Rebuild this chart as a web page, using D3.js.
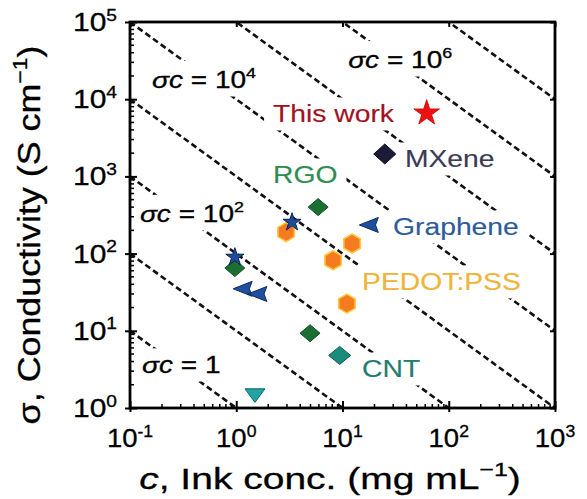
<!DOCTYPE html>
<html><head><meta charset="utf-8">
<script src="https://cdn.jsdelivr.net/npm/d3@7"></script>
<style>body{margin:0;background:#fff} svg{display:block}</style>
</head><body>
<svg id="chart" width="587" height="499"></svg>
<script>
// ---------------- data ----------------
const xTicks = [0.1, 1, 10, 100, 1000];
const xTickExps = ["-1", "0", "1", "2", "3"];
const yTicks = [1, 10, 100, 1000, 10000, 100000];
const yTickExps = ["0", "1", "2", "3", "4", "5"];
const isoExponents = [0, 1, 2, 3, 4, 5, 6, 7]; // sigma*c = 10^k

const thisWork = [{c: 62, s: 6600}];
const mxene = [{c: 25, s: 1950}];
const grapheneTriangles = [{c: 17.7, s: 235}, {c: 1.15, s: 35}, {c: 1.58, s: 30}];
const grapheneStars = [{c: 3.35, s: 255}, {c: 0.97, s: 90}];
const rgo = [{c: 5.9, s: 400}, {c: 0.97, s: 65}, {c: 4.95, s: 9.3}];
const pedot = [{c: 2.95, s: 190}, {c: 12.3, s: 135}, {c: 8.15, s: 82}, {c: 11, s: 22.5}];
const cntDiamond = [{c: 9.4, s: 4.8}];
const cntTriangle = [{c: 1.5, s: 1.5}];

// annotation text anchors (data units: left edge / baseline)
const isoLabels = [
  {exp: "4", c: 0.161, s: 13960},
  {exp: "2", c: 0.124, s: 257},
  {exp: null, c: 0.130, s: 2.84},
  {exp: "6", c: 11.3, s: 25350}
];
const seriesLabels = [
  {key: "thiswork", text: "This work", c: 2.22, s: 5070},
  {key: "mxene", text: "MXene", c: 38.7, s: 1324},
  {key: "graphene", text: "Graphene", c: 29.9, s: 174},
  {key: "rgo", text: "RGO", c: 2.22, s: 822},
  {key: "pedot", text: "PEDOT:PSS", c: 15.3, s: 33.8},
  {key: "cnt", text: "CNT", c: 15.3, s: 2.52}
];

// ---------------- styles ----------------
const labelColor = {
  thiswork: "#a3121f", mxene: "#3b3b55", graphene: "#2d5b9b",
  rgo: "#2f8c4f", pedot: "#efb43a", cnt: "#1f7d72"
};
const FONT = "'Liberation Sans', Arial, Helvetica, sans-serif";

// ---------------- setup ----------------
const svg = d3.select("#chart");
const M = {left: 130, top: 22, right: 555, bottom: 408};
const x = d3.scaleLog().domain([0.1, 1000]).range([M.left, M.right]);
const y = d3.scaleLog().domain([1, 1e5]).range([M.bottom, M.top]);

svg.append("rect").attr("width", 587).attr("height", 499).attr("fill", "#fff");
svg.append("defs").append("clipPath").attr("id", "plotclip").append("rect")
  .attr("x", M.left).attr("y", M.top)
  .attr("width", M.right - M.left).attr("height", M.bottom - M.top);

// iso-lines
const lineGen = d3.line().x(d => x(d[0])).y(d => y(d[1]));
const isoG = svg.append("g").attr("clip-path", "url(#plotclip)");
isoExponents.forEach(k => {
  const v = Math.pow(10, k);
  const pts = [[0.1, v / 0.1], [1000, v / 1000]];
  isoG.append("path").attr("d", lineGen(pts))
    .attr("fill", "none").attr("stroke", "#111")
    .attr("stroke-width", 2.6).attr("stroke-dasharray", "6,3.5");
});

// text helper
function addText(parent, x0, y0, parts, o) {
  const size = o.size, sx = o.sx || 1;
  const g = parent.append("g")
    .attr("transform", `translate(${x0},${y0}) rotate(${o.rotate || 0}) scale(${sx},1)`);
  const rect = o.bg ? g.append("rect").attr("fill", "#fff") : null;
  const t = g.append("text").attr("font-family", FONT).attr("font-size", size)
    .attr("fill", o.color || "#000").attr("text-anchor", o.anchor || "start")
    .attr("stroke", o.color || "#000").attr("stroke-width", o.sw || 0.3);
  let shift = 0;
  parts.forEach(p => {
    const ts = t.append("tspan").text(p.t);
    const target = p.sup ? -size * 0.42 : 0;
    if (target !== shift) { ts.attr("dy", target - shift); shift = target; }
    if (p.sup) ts.attr("font-size", size * 0.64);
    if (p.i) ts.attr("font-style", "italic");
  });
  if (rect) {
    const b = t.node().getBBox();
    const ph = (o.padX || 9) / sx, pv = o.padY || 4;
    rect.attr("x", b.x - ph).attr("y", b.y - pv)
      .attr("width", b.width + 2 * ph).attr("height", b.height + 2 * pv)
      .attr("stroke", "none");
  }
  return g;
}

// annotation labels
const annG = svg.append("g");
isoLabels.forEach(d => {
  const parts = [{t: "σc", i: true}, {t: " = "}];
  if (d.exp) { parts.push({t: "10"}); parts.push({t: d.exp, sup: true}); }
  else parts.push({t: "1"});
  addText(annG, x(d.c), y(d.s), parts, {size: 23, sx: 1.22, bg: true});
});
seriesLabels.forEach(d => {
  addText(annG, x(d.c), y(d.s), [{t: d.text}], {size: 23, sx: 1.23, bg: true, color: labelColor[d.key], sw: 0.15});
});

// marker shapes
const diamond = (w, h) => `M0,${-h}L${w},0L0,${h}L${-w},0Z`;
const hexagon = r => {
  let p = "";
  for (let i = 0; i < 6; i++) {
    const a = Math.PI / 180 * (60 * i - 90);
    p += (i ? "L" : "M") + (r * Math.cos(a)).toFixed(2) + "," + (r * Math.sin(a)).toFixed(2);
  }
  return p + "Z";
};
const arrowLeft = (w, h) => `M${-w},0L${w},${-h}L${w * 0.7},0L${w},${h}Z`;
const downTri = (w, h) => `M${-w},${-h * 0.7}L${w},${-h * 0.7}L0,${h}Z`;
const star = r => d3.symbol(d3.symbolStar, r * r / 0.8908130915292852)();

const mk = svg.append("g");
function plot(data, path, fill, stroke, sw) {
  mk.selectAll(null).data(data).enter().append("path")
    .attr("transform", d => `translate(${x(d.c)},${y(d.s)})`)
    .attr("d", path).attr("fill", fill)
    .attr("stroke", stroke).attr("stroke-width", sw || 1).attr("stroke-linejoin", "round");
}
plot(pedot, hexagon(9.5), "#f47b20", "#ffc840", 1.6);
plot(rgo, diamond(10, 8.5), "#1c6f33", "#12502a", 1);
plot(grapheneStars, star(9.5), "#1f4b98", "#0c2350", 1);
plot(grapheneTriangles, arrowLeft(9.5, 7.5), "#1f4f9e", "#0d2a5e", 1);
plot(mxene, diamond(11, 10), "#1b1b38", "#0b0b20", 1);
plot(thisWork, star(13.5), "#ee1111", "#c00", 0.8);
plot(cntDiamond, diamond(11, 9), "#1b8c7c", "#0e5a50", 1);
plot(cntTriangle, downTri(10, 8), "#22a3a6", "#0f6a6a", 1);

// ---------------- axes ----------------
const axG = svg.append("g");
axG.append("g").attr("transform", `translate(0,${M.bottom})`)
  .call(d3.axisBottom(x).tickValues(xTicks).tickSize(-7).tickSizeOuter(0).tickFormat(""))
  .call(g => g.select(".domain").remove());
axG.append("g").attr("transform", `translate(0,${M.bottom})`)
  .call(d3.axisBottom(x).tickValues(xTicks).tickSize(4).tickSizeOuter(0).tickFormat(""))
  .call(g => g.select(".domain").remove());
axG.append("g").attr("transform", `translate(${M.left},0)`)
  .call(d3.axisLeft(y).tickValues(yTicks).tickSize(-7).tickSizeOuter(0).tickFormat(""))
  .call(g => g.select(".domain").remove());
axG.append("g").attr("transform", `translate(${M.left},0)`)
  .call(d3.axisLeft(y).tickValues(yTicks).tickSize(5).tickSizeOuter(0).tickFormat(""))
  .call(g => g.select(".domain").remove());
axG.append("g").attr("transform", `translate(${M.right},0)`)
  .call(d3.axisRight(y).tickValues(yTicks).tickSize(-5).tickSizeOuter(0).tickFormat(""))
  .call(g => g.select(".domain").remove());
axG.append("g").attr("transform", `translate(0,${M.top})`)
  .call(d3.axisTop(x).tickValues(xTicks).tickSize(-5).tickSizeOuter(0).tickFormat(""))
  .call(g => g.select(".domain").remove());
axG.selectAll(".tick line").attr("stroke", "#000").attr("stroke-width", 2);

// minor ticks
const minorX = [], minorY = [];
xTicks.slice(0, -1).forEach(d => { for (let m = 2; m < 10; m++) minorX.push(d * m); });
yTicks.slice(0, -1).forEach(d => { for (let m = 2; m < 10; m++) minorY.push(d * m); });
axG.selectAll(null).data(minorX).enter().append("line")
  .attr("x1", d => x(d)).attr("x2", d => x(d)).attr("y1", M.bottom).attr("y2", M.bottom - 4)
  .attr("stroke", "#000").attr("stroke-width", 1.5);
axG.selectAll(null).data(minorY).enter().append("line")
  .attr("y1", d => y(d)).attr("y2", d => y(d)).attr("x1", M.left).attr("x2", M.left + 4)
  .attr("stroke", "#000").attr("stroke-width", 1.5);

// frame
axG.append("rect").attr("x", M.left).attr("y", M.top)
  .attr("width", M.right - M.left).attr("height", M.bottom - M.top)
  .attr("fill", "none").attr("stroke", "#000").attr("stroke-width", 2.8);

// tick labels
xTicks.forEach((d, i) => {
  addText(axG, x(d), 447, [{t: "10"}, {t: xTickExps[i], sup: true}], {size: 25, sx: 1.1, anchor: "middle"});
});
yTicks.forEach((d, i) => {
  addText(axG, 117, y(d) + 9, [{t: "10"}, {t: yTickExps[i], sup: true}], {size: 25, sx: 1.2, anchor: "end"});
});

// axis titles
addText(axG, 330, 489, [{t: "c", i: true}, {t: ", Ink conc. (mg mL"}, {t: "−1", sup: true}, {t: ")"}],
  {size: 30, sx: 1.3, anchor: "middle"});
addText(axG, 40, 235, [{t: "σ"}, {t: ", Conductivity (S cm"}, {t: "−1", sup: true}, {t: ")"}],
  {size: 32, sx: 1.12, anchor: "middle", rotate: -90});
</script>
</body></html>
